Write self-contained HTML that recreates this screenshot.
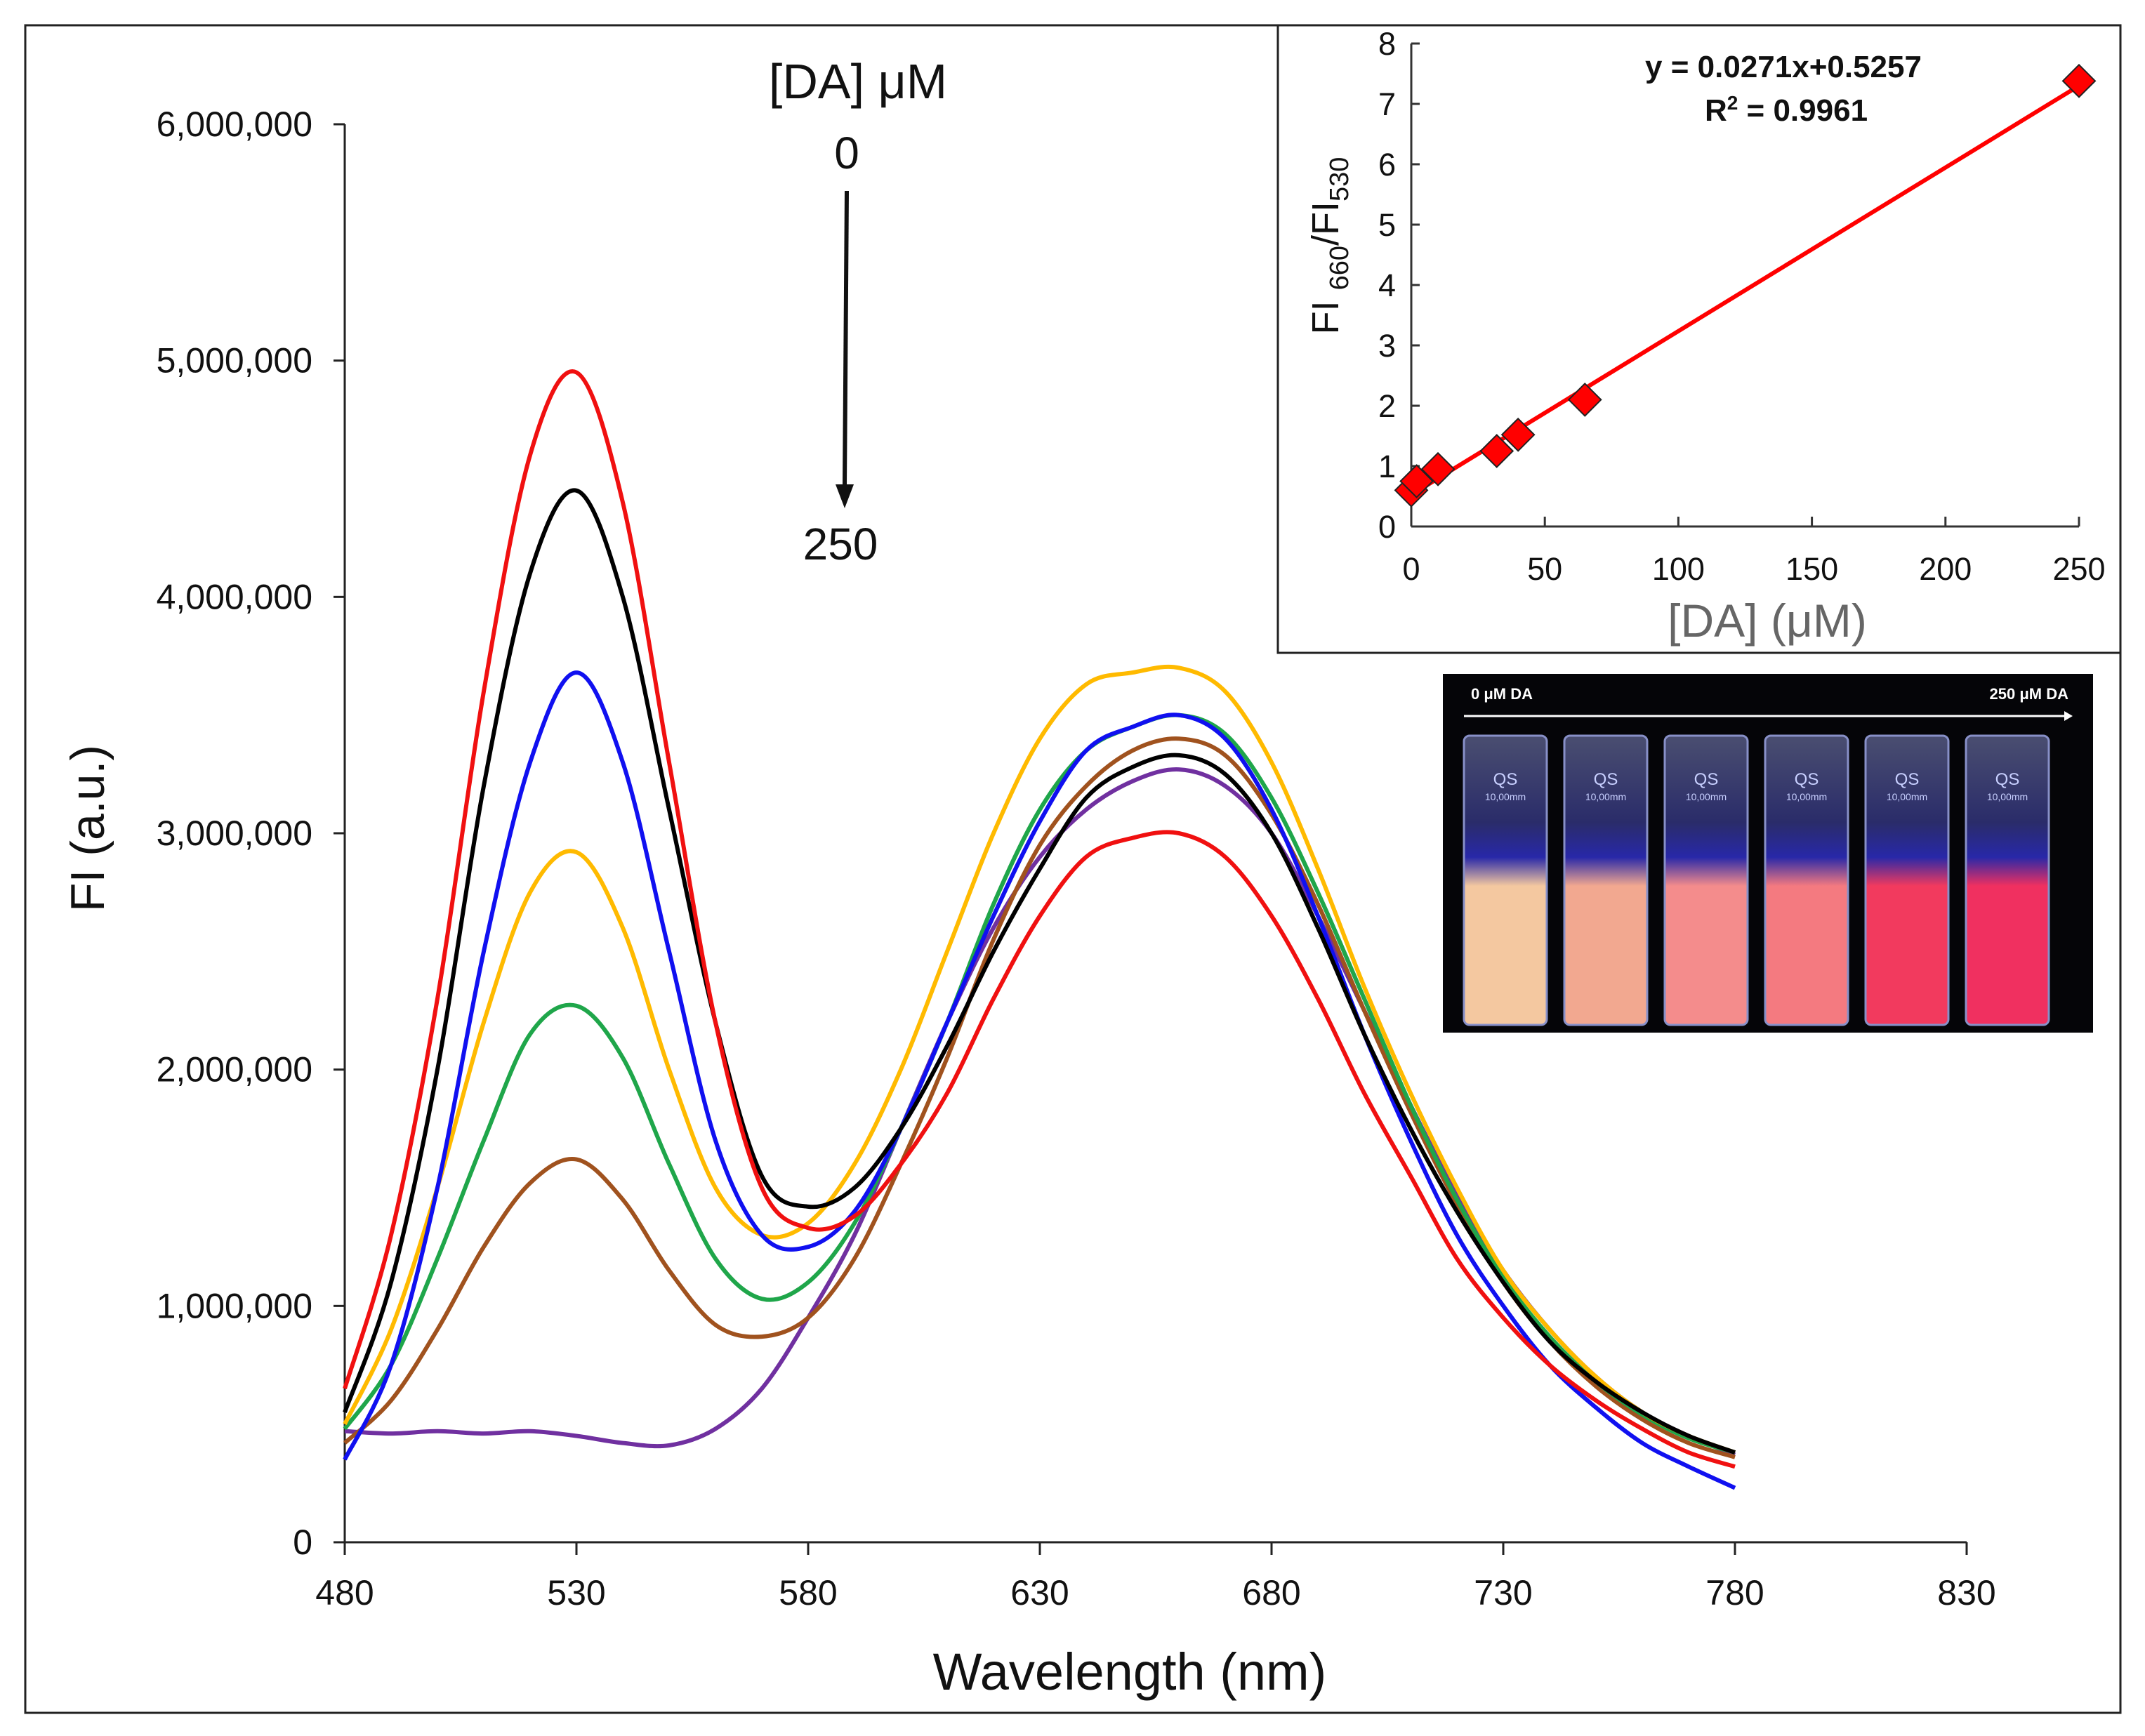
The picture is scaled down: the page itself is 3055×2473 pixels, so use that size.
<!DOCTYPE html>
<html><head><meta charset="utf-8">
<style>
html,body{margin:0;padding:0;background:#fff;}
svg{display:block;font-family:"Liberation Sans",Arial,sans-serif;}
</style></head>
<body>
<svg id="chart" xmlns="http://www.w3.org/2000/svg" width="3055" height="2473" viewBox="0 0 3055 2473">
<rect x="36" y="36" width="2984" height="2404" fill="#fff" stroke="#222" stroke-width="3"/>
<g id="main"></g>
<g id="inset"></g>
<g id="photo"></g>
</svg>
<script>
const wavelengths=[480,490,500,510,520,530,540,550,560,570,580,590,600,610,620,630,640,650,660,670,680,690,700,710,720,730,740,750,760,770,780];
const seriesRed=[0.65,1.3,2.3,3.6,4.6,4.95,4.4,3.3,2.2,1.5,1.33,1.38,1.6,1.9,2.3,2.65,2.9,2.98,3.0,2.9,2.65,2.3,1.9,1.55,1.2,0.95,0.75,0.6,0.48,0.38,0.32];
const seriesBlack=[0.55,1.1,2.0,3.2,4.1,4.45,4.0,3.1,2.2,1.55,1.42,1.5,1.75,2.1,2.5,2.85,3.15,3.28,3.33,3.25,3.0,2.6,2.15,1.75,1.4,1.1,0.85,0.68,0.55,0.45,0.38];
const seriesBlue=[0.35,0.75,1.5,2.5,3.3,3.68,3.3,2.5,1.7,1.3,1.25,1.4,1.75,2.2,2.65,3.05,3.35,3.45,3.5,3.4,3.1,2.65,2.15,1.7,1.3,1.0,0.75,0.57,0.42,0.32,0.23];
const seriesOrange=[0.5,0.9,1.5,2.2,2.75,2.92,2.6,2.0,1.5,1.3,1.35,1.6,2.0,2.5,3.0,3.4,3.63,3.68,3.7,3.6,3.3,2.85,2.35,1.9,1.5,1.15,0.9,0.7,0.55,0.45,0.38];
const seriesGreen=[0.48,0.75,1.2,1.7,2.15,2.27,2.05,1.6,1.2,1.03,1.1,1.35,1.75,2.2,2.7,3.1,3.35,3.45,3.5,3.42,3.15,2.75,2.3,1.85,1.45,1.12,0.87,0.68,0.54,0.44,0.38];
const seriesBrown=[0.42,0.6,0.9,1.25,1.52,1.62,1.45,1.15,0.92,0.87,0.95,1.2,1.6,2.05,2.55,2.95,3.2,3.35,3.4,3.33,3.08,2.7,2.25,1.82,1.43,1.1,0.85,0.66,0.52,0.42,0.36];
const seriesPurple=[0.47,0.46,0.47,0.46,0.47,0.45,0.42,0.41,0.48,0.65,0.95,1.3,1.75,2.2,2.6,2.9,3.1,3.22,3.27,3.2,3.0,2.65,2.25,1.85,1.47,1.15,0.9,0.7,0.55,0.45,0.37];
const xTickLabels=["480","530","580","630","680","730","780","830"];
const yTickLabels=["0","1,000,000","2,000,000","3,000,000","4,000,000","5,000,000","6,000,000"];
const insetX=[0,2,10,32,40,65,250];
const insetY=[0.6,0.75,0.95,1.25,1.52,2.1,7.38];
const insetXTicks=["0","50","100","150","200","250"];
const insetYTicks=["0","1","2","3","4","5","6","7","8"];
const fitSlope=0.0271, fitIntercept=0.5257;

const NS="http://www.w3.org/2000/svg";
function mk(tag,attrs,parent,text){const e=document.createElementNS(NS,tag);for(const k in attrs)e.setAttribute(k,attrs[k]);if(text!==undefined)e.textContent=text;parent.appendChild(e);return e;}

const X0=491,X1=2801,Y0=2197,Y1=177;
const xs=w=>X0+(w-480)/(830-480)*(X1-X0);
const ys=v=>Y0-v/6*(Y0-Y1);
const main=document.getElementById('main');
let e;
e=mk('line',{x1:X0,y1:Y0,x2:X1,y2:Y0,stroke:'#222','stroke-width':3},main);


e=mk('line',{x1:X0,y1:Y0,x2:X0,y2:Y1,stroke:'#222','stroke-width':3},main);


xTickLabels.forEach(t=>{const x=xs(+t);
 e=mk('line',{x1:x,y1:Y0,x2:x,y2:Y0+18,stroke:'#222','stroke-width':3},main);
 
 
 e=mk('text',{x:x,y:Y0+89,'font-size':50,'text-anchor':'middle',fill:'#111'},main,t);
 
 
});
yTickLabels.forEach((t,i)=>{const y=ys(i);
 e=mk('line',{x1:X0-16,y1:y,x2:X0,y2:y,stroke:'#222','stroke-width':3},main);
 
 
 e=mk('text',{x:X0-46,y:y+17,'font-size':50,'text-anchor':'end',fill:'#111'},main,t);
 
 
});
e=mk('text',{x:1609,y:2407,'font-size':74,'text-anchor':'middle',fill:'#111'},main,'Wavelength (nm)');


e=mk('text',{x:0,y:0,'font-size':68,'text-anchor':'middle',fill:'#111',transform:'translate(148,1180) rotate(-90)'},main,'FI (a.u.)');



function smooth(pts){let d='M'+pts[0][0]+','+pts[0][1];
 for(let i=0;i<pts.length-1;i++){const p0=pts[Math.max(0,i-1)],p1=pts[i],p2=pts[i+1],p3=pts[Math.min(pts.length-1,i+2)];
  const c1=[p1[0]+(p2[0]-p0[0])/6,p1[1]+(p2[1]-p0[1])/6],c2=[p2[0]-(p3[0]-p1[0])/6,p2[1]-(p3[1]-p1[1])/6];
  d+=' C'+c1[0].toFixed(1)+','+c1[1].toFixed(1)+' '+c2[0].toFixed(1)+','+c2[1].toFixed(1)+' '+p2[0].toFixed(1)+','+p2[1].toFixed(1);}
 return d;}
const series=[["purple",seriesPurple,"#7030A0"],["brown",seriesBrown,"#A0521E"],["green",seriesGreen,"#1FA64A"],["orange",seriesOrange,"#FFBA00"],["blue",seriesBlue,"#1010F0"],["black",seriesBlack,"#000"],["red",seriesRed,"#F01010"]];
series.forEach(s=>{
 const pts=wavelengths.map((w,i)=>[xs(w),ys(s[1][i])]);
 e=mk('path',{d:smooth(pts),fill:'none',stroke:s[2],'stroke-width':6,'stroke-linejoin':'round'},main);
 
 
});
e=mk('text',{x:1222,y:140,'font-size':70,'text-anchor':'middle',fill:'#111'},main,'[DA] μM');


e=mk('text',{x:1206,y:240,'font-size':64,'text-anchor':'middle',fill:'#111'},main,'0');


e=mk('line',{x1:1206,y1:272,x2:1203,y2:690,stroke:'#111','stroke-width':6},main);


e=mk('polygon',{points:'1190,690 1216,690 1203,724',fill:'#111'},main);


e=mk('text',{x:1197,y:797,'font-size':64,'text-anchor':'middle',fill:'#111'},main,'250');



const inset=document.getElementById('inset');
e=mk('rect',{x:1820,y:36,width:1200,height:894,fill:'#fff',stroke:'#222','stroke-width':3},inset);


const IX0=2010,IX1=2961,IY0=750,IY1=62;
const ixs=v=>IX0+v/250*(IX1-IX0);
const iys=v=>IY0-v/8*(IY0-IY1);
e=mk('line',{x1:IX0,y1:IY0,x2:IX1,y2:IY0,stroke:'#333','stroke-width':3},inset);


e=mk('line',{x1:IX0,y1:IY0,x2:IX0,y2:IY1,stroke:'#333','stroke-width':3},inset);


insetXTicks.forEach(t=>{const x=ixs(+t);
 e=mk('line',{x1:x,y1:IY0,x2:x,y2:IY0-14,stroke:'#333','stroke-width':3},inset);
 
 
 e=mk('text',{x:x,y:IY0+76,'font-size':45,'text-anchor':'middle',fill:'#111'},inset,t);
 
 
});
insetYTicks.forEach(t=>{const y=iys(+t);
 e=mk('line',{x1:IX0,y1:y,x2:IX0+12,y2:y,stroke:'#333','stroke-width':3},inset);
 
 
 e=mk('text',{x:IX0-22,y:y+16,'font-size':45,'text-anchor':'end',fill:'#111'},inset,t);
 
 
});
e=mk('text',{x:2517,y:907,'font-size':66,'text-anchor':'middle',fill:'#666'},inset,'[DA] (μM)');


const yl=mk('text',{x:0,y:0,'font-size':54,'text-anchor':'middle',fill:'#111',transform:'translate(1906,350) rotate(-90)'},inset);


mk('tspan',{},yl,'FI ');mk('tspan',{'font-size':38,dy:14},yl,'660');mk('tspan',{dy:-14},yl,'/FI');mk('tspan',{'font-size':38,dy:14},yl,'530');
e=mk('line',{x1:ixs(0),y1:iys(fitIntercept),x2:ixs(250),y2:iys(fitIntercept+fitSlope*250),stroke:'#F00','stroke-width':6},inset);


insetX.forEach((v,i)=>{const cx=ixs(v),cy=iys(insetY[i]),r=23;
 e=mk('polygon',{points:`${cx},${cy-r} ${cx+r},${cy} ${cx},${cy+r} ${cx-r},${cy}`,fill:'#F00',stroke:'#222','stroke-width':2},inset);
 
 
});
e=mk('text',{x:2540,y:110,'font-size':44,'font-weight':'bold','text-anchor':'middle',fill:'#111'},inset,'y = 0.0271x+0.5257');


const r2=mk('text',{x:2544,y:172,'font-size':44,'font-weight':'bold','text-anchor':'middle',fill:'#111'},inset);


mk('tspan',{},r2,'R');mk('tspan',{'font-size':28,dy:-16},r2,'2');mk('tspan',{dy:16},r2,' = 0.9961');

const photo=document.getElementById('photo');
const defs=mk('defs',{},photo);
const cols=["#F4C8A0","#F2A890","#F48C8C","#F47A80","#F23A5E","#F03060"];
cols.forEach((c,i)=>{const g=mk('linearGradient',{id:'cg'+i,x1:0,y1:0,x2:0,y2:1},defs);
 mk('stop',{offset:'0','stop-color':'#4A4E70'},g);
 mk('stop',{offset:'0.3','stop-color':'#2A2C6A'},g);
 mk('stop',{offset:'0.42','stop-color':'#2828A8'},g);
 mk('stop',{offset:'0.52','stop-color':c},g);
 mk('stop',{offset:'1','stop-color':c}, g);});
e=mk('rect',{x:2055,y:960,width:926,height:511,fill:'#050508'},photo);


e=mk('text',{x:2095,y:996,'font-size':22,'font-weight':'bold',fill:'#fff'},photo,'0 μM DA');


e=mk('text',{x:2946,y:996,'font-size':22,'font-weight':'bold',fill:'#fff','text-anchor':'end'},photo,'250 μM DA');


e=mk('line',{x1:2085,y1:1020,x2:2940,y2:1020,stroke:'#fff','stroke-width':3},photo);


mk('polygon',{points:'2940,1013 2952,1020 2940,1027',fill:'#fff'},photo);
cols.forEach((c,i)=>{const x=2085+i*143;
 e=mk('rect',{x:x,y:1048,width:118,height:412,rx:8,fill:`url(#cg${i})`,stroke:'#8890C8','stroke-width':3},photo);
 
 
 mk('text',{x:x+59,y:1118,'font-size':24,'text-anchor':'middle',fill:'#C8D0FF'},photo,'QS');
 mk('text',{x:x+59,y:1140,'font-size':14,'text-anchor':'middle',fill:'#C8D0FF'},photo,'10,00mm');
});
</script>
</body></html>
